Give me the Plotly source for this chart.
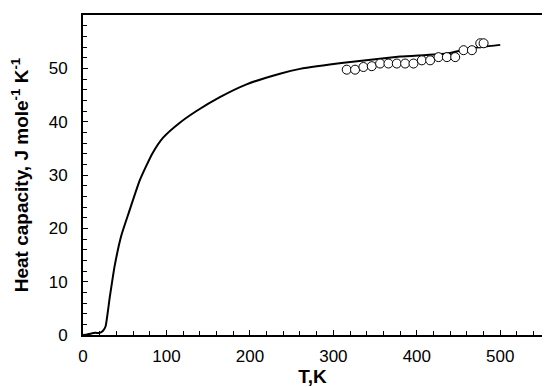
import plotly.graph_objects as go

# Calculated heat capacity curve
curve_T = [0, 5, 10, 15, 20, 24, 27, 32, 38, 46, 55, 68, 83, 96, 116, 136, 164, 196,
           236, 260, 315, 380, 436, 463, 500]
curve_C = [0, 0.1, 0.3, 0.4, 0.4, 0.8, 1.6, 7.0, 13.0, 18.7, 23.0, 29.0, 34.0, 37.0,
           39.8, 42.0, 44.6, 47.0, 49.0, 49.9, 51.1, 52.2, 52.8, 53.7, 54.4]

# Experimental points
exp_T = [316, 326, 336, 346, 356, 366, 376, 386, 396, 406, 416, 426, 436, 446, 456,
         466, 476, 480]
exp_C = [49.75, 49.75, 50.25, 50.4, 50.9, 50.9, 50.9, 50.9, 50.9, 51.5, 51.5, 52.1,
         52.1, 52.1, 53.4, 53.4, 54.7, 54.7]

x_ticks = [0, 100, 200, 300, 400, 500]
y_ticks = [0, 10, 20, 30, 40, 50, 60]

fig = go.Figure()
fig.add_trace(go.Scatter(x=curve_T, y=curve_C, mode="lines",
                         line=dict(color="black", width=2, shape="spline", smoothing=0.5),
                         showlegend=False))
fig.add_trace(go.Scatter(x=exp_T, y=exp_C, mode="markers",
                         marker=dict(symbol="circle", size=9, color="white",
                                     line=dict(color="black", width=1)),
                         showlegend=False))

font_family = "Liberation Sans, Arial, sans-serif"
# page body has an 8px default margin, so the figure is sized 542x379
fig.update_layout(
    width=542, height=379,
    margin=dict(l=75, r=8, t=7, b=52),
    paper_bgcolor="white", plot_bgcolor="white",
    font=dict(family=font_family, color="black", size=17),
    xaxis=dict(range=[0, 550], tickvals=x_ticks, ticks="inside", ticklen=5,
               tickwidth=1, tickcolor="black", automargin=False,
               minor=dict(dtick=20, ticks="inside", ticklen=4, tickcolor="black", tickwidth=1),
               showline=True, linecolor="black", linewidth=2, mirror=True,
               showgrid=False, zeroline=False, ticklabelstandoff=5,
               tickfont=dict(size=17),
               title=dict(text="<b>T,K</b>", font=dict(size=19), standoff=7)),
    yaxis=dict(range=[0, 60], tickvals=y_ticks, ticks="inside", ticklen=5,
               tickwidth=1, tickcolor="black", automargin=False,
               minor=dict(dtick=2, ticks="inside", ticklen=4, tickcolor="black", tickwidth=1),
               showline=True, linecolor="black", linewidth=2, mirror=True,
               showgrid=False, zeroline=False, ticklabelstandoff=10,
               tickfont=dict(size=17),
               title=dict(text="<b>Heat capacity, J mole<sup>-1</sup> K<sup>-1</sup></b>",
                          font=dict(size=19), standoff=24)),
)

fig.write_html("out.html")
